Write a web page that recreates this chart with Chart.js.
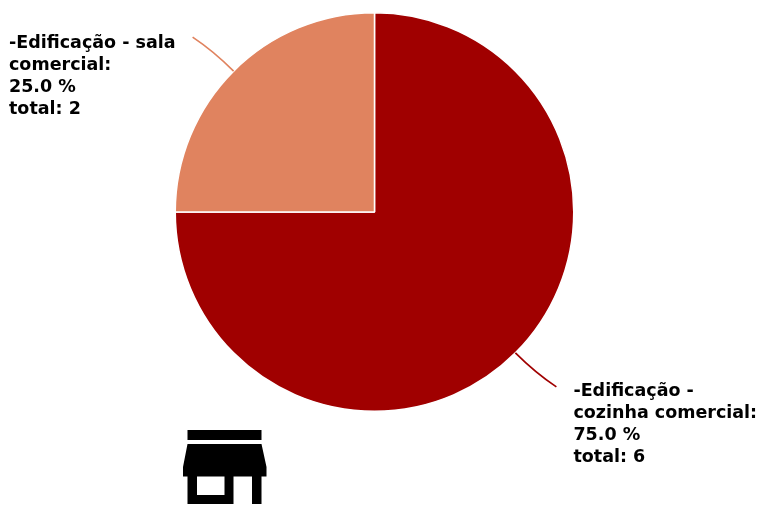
<!DOCTYPE html>
<html>
<head>
<meta charset="utf-8">
<script src="https://cdn.jsdelivr.net/npm/chart.js@4"></script>
<style>
  html, body { margin: 0; padding: 0; background: #fff; }
  #graph-container { width: 758px; height: 505px; }
</style>
</head>
<body>
<div id="graph-container"><canvas id="graph" width="758" height="505"></canvas></div>
<script>
const categories = ['-Edificação - cozinha comercial', '-Edificação - sala comercial'];
const totals = [6, 2];
const percents = ['75.0 %', '25.0 %'];
const colors = ['#a00000', '#e0835f'];
const labelLines = [
  ['-Edificação -', 'cozinha comercial:', '75.0 %', 'total: 6'],
  ['-Edificação - sala', 'comercial:', '25.0 %', 'total: 2']
];

// outside labels with the curved leader lines
const calloutPlugin = {
  id: 'callouts',
  afterDatasetsDraw(chart) {
    const ctx = chart.ctx;
    const arcs = chart.getDatasetMeta(0).data;
    ctx.save();
    arcs.forEach((arc, i) => {
      const mid = (arc.startAngle + arc.endAngle) / 2;
      const dirX = Math.cos(mid), dirY = Math.sin(mid);
      const startX = arc.x + dirX * arc.outerRadius;
      const startY = arc.y + dirY * arc.outerRadius;
      const side = dirX > 0 ? 1 : -1;
      const vert = dirY > 0 ? 1 : -1;
      const endX = startX + side * 41;
      const endY = startY + vert * 34;
      ctx.beginPath();
      ctx.moveTo(startX, startY);
      ctx.bezierCurveTo(startX + dirX * 25, startY + dirY * 25, endX - side * 9, endY - vert * 6, endX, endY);
      ctx.strokeStyle = colors[i];
      ctx.lineWidth = 1.7;
      ctx.stroke();

      ctx.fillStyle = '#000';
      ctx.font = 'bold 17.5px "DejaVu Sans"';
      ctx.textBaseline = 'alphabetic';
      ctx.textAlign = 'left';
      const textX = side > 0 ? endX + 17 : 9;
      const firstY = endY + (side > 0 ? 9 : 10.5);
      labelLines[i].forEach((line, n) => {
        ctx.fillText(line, textX, firstY + n * 22);
      });
    });
    ctx.restore();
  }
};

// store icon under the pie
const iconPlugin = {
  id: 'storeIcon',
  afterDraw(chart) {
    const ctx = chart.ctx;
    ctx.save();
    ctx.fillStyle = '#000';
    ctx.fillRect(187.5, 430, 74, 10);
    ctx.beginPath();
    ctx.moveTo(187.5, 444);
    ctx.lineTo(261.5, 444);
    ctx.lineTo(266.5, 467);
    ctx.lineTo(266.5, 476.5);
    ctx.lineTo(261.5, 476.5);
    ctx.lineTo(261.5, 504);
    ctx.lineTo(252, 504);
    ctx.lineTo(252, 476.5);
    ctx.lineTo(233.5, 476.5);
    ctx.lineTo(233.5, 504);
    ctx.lineTo(187.5, 504);
    ctx.lineTo(187.5, 476.5);
    ctx.lineTo(183, 476.5);
    ctx.lineTo(183, 467);
    ctx.closePath();
    ctx.moveTo(197, 476.5);
    ctx.lineTo(197, 495);
    ctx.lineTo(224.5, 495);
    ctx.lineTo(224.5, 476.5);
    ctx.closePath();
    ctx.fill('evenodd');
    ctx.restore();
  }
};

new Chart(document.getElementById('graph').getContext('2d'), {
  type: 'pie',
  data: {
    labels: categories,
    datasets: [{
      data: totals,
      backgroundColor: colors,
      borderColor: '#fff',
      borderWidth: 1.5
    }]
  },
  options: {
    responsive: false,
    animation: false,
    layout: { padding: { top: 12, bottom: 93, left: 0, right: 9 } },
    plugins: { legend: { display: false }, tooltip: { enabled: false } }
  },
  plugins: [calloutPlugin, iconPlugin]
});
</script>
</body>
</html>
